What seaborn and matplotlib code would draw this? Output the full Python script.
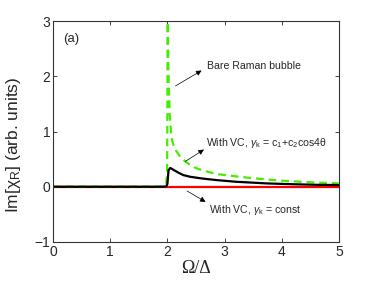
import matplotlib
matplotlib.use("Agg")
import matplotlib.pyplot as plt
import seaborn as sns
import pandas as pd

# Bare Raman bubble (green dashed)
bare_x = [0.0, 1.0, 1.9, 1.95, 1.98, 1.995, 2.0, 2.005, 2.01, 2.02, 2.04, 2.07, 2.12, 2.22, 2.32, 2.45, 2.6, 2.86, 3.1, 3.44, 3.75, 4.0, 4.5, 5.0]
bare_y = [0.0, 0.0, 0.0, 0.01, 0.05, 0.3, 1.5, 3.5, 2.6, 2.0, 1.3, 0.9, 0.7, 0.55, 0.45, 0.36, 0.3, 0.23, 0.2, 0.16, 0.13, 0.11, 0.08, 0.06]

# With VC, gamma_k = c1 + c2 cos4theta (black)
vc_x = [0.0, 1.0, 1.9, 1.98, 2.0, 2.02, 2.05, 2.1, 2.2, 2.28, 2.4, 2.6, 2.86, 3.2, 3.74, 4.2, 4.6, 5.0]
vc_y = [0.0, 0.0, 0.0, 0.005, 0.05, 0.3, 0.34, 0.31, 0.25, 0.21, 0.18, 0.15, 0.12, 0.09, 0.06, 0.045, 0.035, 0.03]

# With VC, gamma_k = const (red)
const_x = [0.0, 5.0]
const_y = [0.0, 0.0]

sns.set_style("ticks")
plt.rcParams['font.family'] = ['Liberation Sans', 'DejaVu Sans']
plt.rcParams['mathtext.fontset'] = 'custom'
plt.rcParams['mathtext.rm'] = 'Liberation Sans'
plt.rcParams['mathtext.it'] = 'Liberation Sans:italic'

fig = plt.figure(figsize=(3.74, 2.81), dpi=100)
ax = fig.add_axes([0.142, 0.139, 0.764, 0.786])

df_c = pd.DataFrame({"x": const_x, "y": const_y})
df_b = pd.DataFrame({"x": bare_x, "y": bare_y})
df_v = pd.DataFrame({"x": vc_x, "y": vc_y})

sns.lineplot(data=df_c, x="x", y="y", ax=ax, color="#ff0000", lw=1.6, sort=False)
sns.lineplot(data=df_b, x="x", y="y", ax=ax, color="#44ee00", lw=1.6, sort=False, dashes=False)
ax.lines[-1].set_linestyle((0, (3.5, 2.2)))
sns.lineplot(data=df_v, x="x", y="y", ax=ax, color="black", lw=1.6, sort=False)

ax.set_xlim(0, 5)
ax.set_ylim(-1, 3)
ax.set_xticks([0, 1, 2, 3, 4, 5])
ax.set_yticks([-1, 0, 1, 2, 3])
ax.set_xticklabels(["0", "1", "2", "3", "4", "5"])
ax.set_yticklabels(["\u22121", "0", "1", "2", "3"])
ax.tick_params(direction="in", length=3, width=0.6, labelsize=10, top=True, right=True, pad=2)
for s in ax.spines.values():
    s.set_visible(True)
    s.set_linewidth(0.8)
    s.set_color("#333333")

ax.set_xlabel("\u03a9/\u0394", family=["Liberation Serif", "DejaVu Serif"], fontsize=13, labelpad=1)
ax.set_ylabel("Im[\u03c7$_\\mathregular{R}$] (arb. units)", fontsize=12.5, labelpad=2)
ax.yaxis.set_label_coords(-0.105, 0.44)

ax.text(0.18, 2.62, "(a)", fontsize=9.5)

arrow = dict(arrowstyle="-|>", color="black", lw=0.5, mutation_scale=8)
ax.text(2.69, 2.19, "Bare Raman bubble", fontsize=7.6, va="center", ha="left")
ax.annotate("", xy=(2.64, 2.13), xytext=(2.1, 1.8), arrowprops=arrow)

ax.text(2.67, 0.8, "With VC, $\\gamma_\\mathregular{k}$ = c$_\\mathregular{1}$+c$_\\mathregular{2}$cos4\u03b8",
        fontsize=7.6, va="center", ha="left")
ax.annotate("", xy=(2.68, 0.7), xytext=(2.27, 0.43), arrowprops=arrow)

ax.text(2.73, -0.42, "With VC, $\\gamma_\\mathregular{k}$ = const", fontsize=7.6, va="center", ha="left")
ax.annotate("", xy=(2.71, -0.3), xytext=(2.3, -0.05), arrowprops=arrow)

fig.savefig("out.png", dpi=100)
